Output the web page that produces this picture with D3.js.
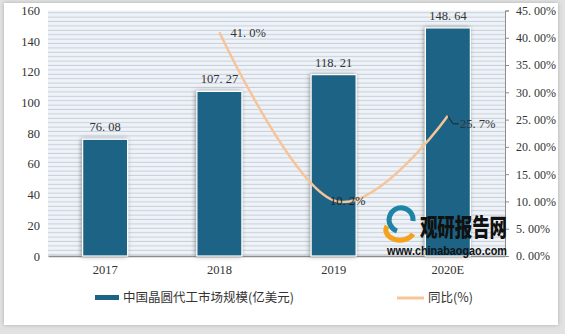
<!DOCTYPE html>
<html>
<head>
<meta charset="utf-8">
<script src="https://cdn.jsdelivr.net/npm/d3@7"></script>
<style>
  body { margin: 0; background: #fff; }
  svg { display: block; }
</style>
</head>
<body>
<svg></svg>
<script>
  // chart data
  var years = ["2017", "2018", "2019", "2020E"];
  var market = [76.08, 107.27, 118.21, 148.64];
  var growth = [null, 41.0, 10.2, 25.7];
  var leftTicks = [0, 20, 40, 60, 80, 100, 120, 140, 160];
  var rightTicks = [0, 5, 10, 15, 20, 25, 30, 35, 40, 45];
  var barName = "中国晶圆代工市场规模(亿美元)";
  var lineName = "同比(%)";

  var width = 565, height = 334;
  var plotLeft = 48, plotRight = 505, plotTop = 10.5, plotBottom = 256;
  var numFont = '"Liberation Serif","DejaVu Serif",serif';
  var cjkFont = '"Noto Sans CJK SC",sans-serif';

  var svg = d3.select('svg')
              .attr('width', width)
              .attr('height', height);

  var defs = svg.append("defs");
  var pat = defs.append("pattern")
                .attr("id", "stripes")
                .attr("patternUnits", "userSpaceOnUse")
                .attr("width", 8).attr("height", 4.4);
  pat.append("rect").attr("width", 8).attr("height", 4.4).attr("fill", "#edf3f8");
  pat.append("rect").attr("y", 3.4).attr("width", 8).attr("height", 1).attr("fill", "#c9cfd6");

  var shadow = defs.append("filter").attr("id", "shadow")
                   .attr("x", "-30%").attr("y", "-10%").attr("width", "160%").attr("height", "120%");
  shadow.append("feDropShadow").attr("dx", -1).attr("dy", 0).attr("stdDeviation", 2)
        .attr("flood-color", "#555").attr("flood-opacity", 0.6);

  var frame = defs.append("filter").attr("id", "frame")
                  .attr("x", "-5%").attr("y", "-5%").attr("width", "110%").attr("height", "110%");
  frame.append("feDropShadow").attr("dx", 0).attr("dy", 0).attr("stdDeviation", 2)
       .attr("flood-color", "#888").attr("flood-opacity", 0.6);

  // outer frame
  svg.append("rect").attr("width", width).attr("height", height).attr("fill", "#e2e2e2");
  svg.append("rect").attr("x", 4).attr("y", 3).attr("width", 554).attr("height", 322)
     .attr("fill", "#fff").attr("filter", "url(#frame)");

  var xScale = d3.scaleBand().domain(years).range([plotLeft, plotRight]);
  var yScale = d3.scaleLinear().domain([0, 160]).range([plotBottom, plotTop]);
  var y2Scale = d3.scaleLinear().domain([0, 45]).range([plotBottom, plotTop]);

  // plot background
  svg.append("rect")
     .attr("x", plotLeft).attr("y", plotTop)
     .attr("width", plotRight - plotLeft).attr("height", plotBottom - plotTop)
     .attr("fill", "url(#stripes)");

  // left axis
  var leftAxis = svg.append("g")
     .attr("transform", `translate(${plotLeft},0)`)
     .call(d3.axisLeft(yScale).tickValues(leftTicks).tickSize(0).tickPadding(8));
  leftAxis.select(".domain").remove();

  // right axis
  var rightAxis = svg.append("g")
     .attr("transform", `translate(${plotRight},0)`)
     .call(d3.axisRight(y2Scale).tickValues(rightTicks).tickSize(4).tickPadding(7)
             .tickFormat(d => d3.format(".2f")(d).replace(".", ". ") + "%"));
  rightAxis.select(".domain").attr("stroke", "#8c8c8c");
  rightAxis.selectAll(".tick line").attr("stroke", "#8c8c8c");

  // bottom axis
  var bottomAxis = svg.append("g")
     .attr("transform", `translate(0,${plotBottom})`)
     .call(d3.axisBottom(xScale).tickSize(0).tickPadding(9));
  bottomAxis.select(".domain").attr("stroke", "#8c8c8c").attr("stroke-width", 1.5);

  svg.selectAll(".tick text")
     .style("font-family", numFont)
     .style("font-size", "12.5px")
     .attr("fill", "#333");
  rightAxis.selectAll(".tick text").style("font-size", "12px");

  // bars
  var barW = 45;
  svg.selectAll("rect.bar")
     .data(market)
     .enter()
       .append("rect")
       .attr("class", "bar")
       .attr("x", (d, i) => xScale(years[i]) + xScale.bandwidth() / 2 - barW / 2)
       .attr("y", d => yScale(d))
       .attr("width", barW)
       .attr("height", d => plotBottom - yScale(d))
       .attr("fill", "#1b6485")
       .attr("stroke", "#fff")
       .attr("stroke-width", 1.2)
       .attr("filter", "url(#shadow)");

  svg.selectAll("text.barlabel")
     .data(market)
     .enter()
       .append("text")
       .attr("class", "barlabel")
       .attr("x", (d, i) => xScale(years[i]) + xScale.bandwidth() / 2)
       .attr("y", d => yScale(d) - 8)
       .attr("text-anchor", "middle")
       .style("font-family", numFont)
       .style("font-size", "12.5px")
       .attr("fill", "#333")
       .text(d => d3.format(".2f")(d).replace(".", ". "));

  // growth line
  var pts = growth.map((g, i) => ({ year: years[i], v: g })).filter(d => d.v !== null);
  var line = d3.line()
     .x(d => xScale(d.year) + xScale.bandwidth() / 2)
     .y(d => y2Scale(d.v))
     .curve(d3.curveCardinal.tension(-0.1));
  svg.append("path")
     .datum(pts)
     .attr("d", line)
     .attr("fill", "none")
     .attr("stroke", "#f7c49a")
     .attr("stroke-width", 2.5);

  // line labels
  var cx = d => xScale(d.year) + xScale.bandwidth() / 2;
  svg.append("text")
     .attr("x", cx(pts[0]) + 11).attr("y", y2Scale(pts[0].v) + 5)
     .style("font-family", numFont).style("font-size", "12.5px").attr("fill", "#333")
     .text(pts[0].v.toFixed(1).replace(".", ". ") + "%");
  svg.append("text")
     .attr("x", cx(pts[1]) + 14).attr("y", y2Scale(pts[1].v) + 5)
     .attr("text-anchor", "middle")
     .style("font-family", numFont).style("font-size", "12.5px").attr("fill", "#222")
     .text(pts[1].v.toFixed(1).replace(".", ". ") + "%");
  var p3x = cx(pts[2]), p3y = y2Scale(pts[2].v);
  svg.append("path")
     .attr("d", `M${p3x},${p3y} L${p3x + 5},${p3y + 8} L${p3x + 11},${p3y + 8}`)
     .attr("fill", "none").attr("stroke", "#222").attr("stroke-width", 1);
  svg.append("text")
     .attr("x", p3x + 12).attr("y", p3y + 12)
     .style("font-family", numFont).style("font-size", "12.5px").attr("fill", "#333")
     .text(pts[2].v.toFixed(1).replace(".", ". ") + "%");

  // watermark
  var wm = svg.append("g");
  wm.append("path").attr("d", "M397,231 A12,12 0 1,1 413,221").attr("fill", "none")
    .attr("stroke", "#1d84a8").attr("stroke-width", 5);
  wm.append("path").attr("d", "M387,226 A14,10 0 0,0 413,234").attr("fill", "none")
    .attr("stroke", "#f5a11c").attr("stroke-width", 5);
  wm.append("text")
    .attr("transform", "translate(420,236) scale(1,1.35)")
    .style("font-family", cjkFont).style("font-size", "17.5px").style("font-weight", "900")
    .attr("textLength", 87).attr("fill", "#111").text("观研报告网");
  wm.append("text").attr("x", 387).attr("y", 255)
    .style("font-family", '"Liberation Sans",Arial,sans-serif').style("font-size", "13px")
    .style("font-weight", "bold").attr("fill", "#111")
    .attr("textLength", 120).attr("lengthAdjust", "spacingAndGlyphs").text("www.chinabaogao.com");

  // legend
  svg.append("rect").attr("x", 95).attr("y", 295).attr("width", 24).attr("height", 5).attr("fill", "#1b6485");
  svg.append("text").attr("x", 123).attr("y", 302)
     .style("font-family", cjkFont).style("font-size", "12.5px").attr("fill", "#333")
     .text(barName);
  svg.append("line").attr("x1", 397).attr("x2", 424).attr("y1", 298).attr("y2", 298)
     .attr("stroke", "#f7c49a").attr("stroke-width", 3);
  svg.append("text").attr("x", 428).attr("y", 302)
     .style("font-family", cjkFont).style("font-size", "12.5px").attr("fill", "#333")
     .text(lineName);
</script>
</body>
</html>
